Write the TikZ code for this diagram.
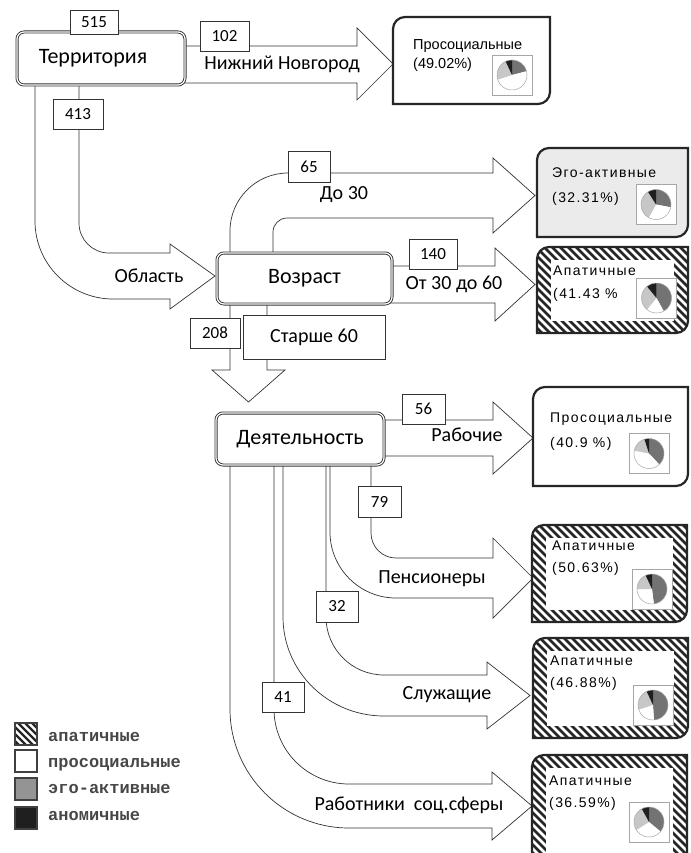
\documentclass[tikz,border=0pt]{standalone}
\usepackage{fontspec}
\setmainfont{Carlito}
\newfontfamily\resfont{Liberation Sans}
\newfontfamily\resfontsp[LetterSpace=10]{Liberation Sans}
\newfontfamily\legfont{Liberation Mono}

\newcommand\resshape[4]{(#1,#4) -- (#1,#2+12) .. controls (#1,#2+5.4) and (#1+5.4,#2) .. (#1+12,#2) -- (#3,#2) -- (#3,#4-12) .. controls (#3,#4-5.4) and (#3-5.4,#4) .. (#3-12,#4) -- cycle}
\newcommand\plainres[5]{\filldraw[resline, fill=#5] \resshape{#1}{#2}{#3}{#4};}
\newcommand\hatchres[4]{%
  \begin{scope}
    \clip \resshape{#1}{#2}{#3}{#4};
    \fill[white] (#1,#2) rectangle (#3,#4);
    \foreach \k in {0,8,...,320} \draw[hatchline] (#1-150+\k,#2-5) -- ++(140,140);
  \end{scope}
  \fill[white] (#1+14,#2+13) rectangle (#3-14,#4-12);
  \draw[resline] \resshape{#1}{#2}{#3}{#4};
}
\newcommand\minipie[5]{%
  \pgfmathsetmacro\pa{-90+3.6*#3}%
  \pgfmathsetmacro\pb{\pa+3.6*#4}%
  \pgfmathsetmacro\pc{\pb+3.6*#5}%
  \draw[draw=black!35, line width=0.6pt, fill=white] (#1-20,#2-20) rectangle (#1+20,#2+20);
  \fill[black!55] (#1,#2) -- ++(-90:15) arc[start angle=-90, end angle=\pa, radius=15] -- cycle;
  \fill[white] (#1,#2) -- ++(\pa:15) arc[start angle=\pa, end angle=\pb, radius=15] -- cycle;
  \fill[black!22] (#1,#2) -- ++(\pb:15) arc[start angle=\pb, end angle=\pc, radius=15] -- cycle;
  \fill[black!88] (#1,#2) -- ++(\pc:15) arc[start angle=\pc, end angle=270, radius=15] -- cycle;
  \draw[black!35, line width=0.5pt] (#1,#2) circle[radius=15];
}

\begin{document}
\begin{tikzpicture}[x=1pt,y=-1pt,
  flow/.style={draw=black!80, line width=0.7pt, fill=white},
  mainbox/.style={draw=black!80, line width=0.9pt, double=white, double distance=1.2pt, rounded corners=7pt, fill=white, inner sep=0pt, font=\fontsize{22}{22}\selectfont},
  numbox/.style={draw=black!80, line width=0.7pt, fill=white, inner sep=0pt, font=\fontsize{17}{17}\selectfont},
  flowlabel/.style={inner sep=0pt, font=\fontsize{20}{20}\selectfont},
  resline/.style={draw=black!85, line width=2.2pt},
  hatchline/.style={draw=black!85, line width=2.8pt},
  restext/.style={inner sep=0pt, anchor=base west, font=\resfontsp\fontsize{14}{14}\selectfont},
  legtext/.style={inner sep=0pt, anchor=base west, text=black!72, font=\legfont\bfseries\fontsize{17}{17}\selectfont},
  legbox/.style={draw=black!75, line width=1.2pt}
]
\useasboundingbox (0,0) rectangle (690,853);

% ---- flow arrows ----
\draw[flow] (79,80) -- (79,223) .. controls (79,239.6) and (92.4,253) .. (109,253) -- (170,253) -- (170,244) -- (215,276) -- (170,309) -- (170,299) -- (113,299) .. controls (70,299) and (35,264) .. (35,221) -- (35,80) -- cycle;
\draw[flow] (180,46) -- (357,46) -- (357,28) -- (393,64) -- (357,100) -- (357,83) -- (180,83) -- cycle;
\draw[flow] (230,258) -- (230,231) .. controls (230,199) and (256,173) .. (288,173) -- (493,173) -- (493,158) -- (535,195.5) -- (493,233) -- (493,218) -- (287,218) .. controls (279.3,218) and (273,224.3) .. (273,232) -- (273,258) -- cycle;
\draw[flow] (388,266) -- (495,266) -- (495,248) -- (535,284.5) -- (495,321) -- (495,303) -- (388,303) -- cycle;
\draw[flow] (230,300) -- (230,370) -- (212,370) -- (248.5,402) -- (285,370) -- (267,370) -- (267,300) -- cycle;
\draw[flow] (380,420) -- (493,420) -- (493,402) -- (533,438) -- (493,474) -- (493,456) -- (380,456) -- cycle;
\draw[flow] (371,460) -- (371,533) .. controls (371,546.8) and (382.2,558) .. (396,558) -- (493,558) -- (493,538) -- (533,578) -- (493,618) -- (493,598) -- (396,598) .. controls (359.6,598) and (330,568.4) .. (330,532) -- (330,460) -- cycle;
\draw[flow] (326,460) -- (326,617) .. controls (326,649) and (352,675) .. (384,675) -- (487,675) -- (487,662) -- (530,695.5) -- (487,729) -- (487,716) -- (384,716) .. controls (328.2,716) and (283,671.6) .. (283,617) -- (283,460) -- cycle;
\draw[flow] (274,460) -- (274,709) .. controls (274,750.4) and (307.6,784) .. (349,784) -- (492,784) -- (492,772) -- (532,806) -- (492,840) -- (492,828) -- (349,828) .. controls (283.3,828) and (230,774.7) .. (230,709) -- (230,460) -- cycle;

% ---- main boxes ----
\node[mainbox, minimum width=168pt, minimum height=53pt] (terr) at (101,58.5) {Территория\hspace*{16pt}};
\node[mainbox, minimum width=175pt, minimum height=51pt] (age) at (304.5,278.5) {Возраст};
\node[mainbox, minimum width=168pt, minimum height=52pt] (act) at (300,439) {Деятельность};

% ---- number boxes ----
\node[numbox, minimum width=48pt, minimum height=24pt] (n515) at (94,22) {515};
\node[numbox, minimum width=49pt, minimum height=30pt] (n102) at (224.5,36) {102};
\node[numbox, minimum width=50pt, minimum height=30pt] (n413) at (78,114.5) {413};
\node[numbox, minimum width=42pt, minimum height=31pt] (n65) at (309,166.5) {65};
\node[numbox, minimum width=48pt, minimum height=30pt] (n140) at (433,254) {140};
\node[numbox, minimum width=50pt, minimum height=30pt] (n208) at (215,333) {208};
\node[numbox, minimum width=142pt, minimum height=44pt, font=\fontsize{20}{20}\selectfont] (lold) at (314,337) {Старше 60};
\node[numbox, minimum width=43pt, minimum height=30pt] (n56) at (423.5,409) {56};
\node[numbox, minimum width=43pt, minimum height=31pt] (n79) at (379.5,501.5) {79};
\node[numbox, minimum width=42pt, minimum height=31pt] (n32) at (337,606.5) {32};
\node[numbox, minimum width=42pt, minimum height=30pt] (n41) at (283,697) {41};

% ---- flow labels ----
\node[flowlabel] (lnn) at (282,64) {Нижний Новгород};
\node[flowlabel] (lobl) at (149,276) {Область};
\node[flowlabel] (l30) at (344,195) {До 30};
\node[flowlabel] (l3060) at (454,284) {От 30 до 60};
\node[flowlabel] (lrab) at (467,435) {Рабочие};
\node[flowlabel] (lpen) at (432,579) {Пенсионеры};
\node[flowlabel] (lslu) at (447,695) {Служащие};
\node[flowlabel] (lsoc) at (409,805) {Работники\ \ соц.сферы};

% ---- result boxes ----
\plainres{393}{17}{550}{104}{white}
\plainres{537}{148}{688}{237}{black!8}
\hatchres{537}{247}{688}{333}
\plainres{533}{387}{688}{486}{white}
\hatchres{532}{525}{687}{622}
\hatchres{533}{638}{688}{738}
\hatchres{532}{755}{687}{875}

\node[restext, font=\resfont\fontsize{14.5}{14.5}\selectfont] (r1a) at (413,50) {Просоциальные};
\node[restext, font=\resfont\fontsize{14.5}{14.5}\selectfont] (r1b) at (413,69) {(49.02\%)};
\minipie{512}{75}{21}{49}{23}
\node[restext] (r2a) at (552,178) {Эго-активные};
\node[restext] (r2b) at (552,202) {(32.31\%)};
\minipie{656}{204.5}{28}{30}{33}
\node[restext] (r3a) at (553,275) {Апатичные};
\node[restext] (r3b) at (553,298) {(41.43 \%};
\minipie{656.5}{298}{42}{19}{28}
\node[restext] (r4a) at (550,422) {Просоциальные};
\node[restext] (r4b) at (550,447) {(40.9 \%)};
\minipie{649}{453.5}{38}{40}{17}
\node[restext] (r5a) at (552,550) {Апатичные};
\node[restext] (r5b) at (552,572) {(50.63\%)};
\minipie{652}{589}{48}{27}{18}
\node[restext] (r6a) at (550,665) {Апатичные};
\node[restext] (r6b) at (550,687) {(46.88\%)};
\minipie{653}{705}{49}{21}{23}
\node[restext] (r7a) at (549,785) {Апатичные};
\node[restext] (r7b) at (549,807) {(36.59\%)};
\minipie{649}{822}{36}{30}{26}

% ---- legend ----
\begin{scope}
  \clip (15,723) rectangle (37,745);
  \fill[white] (15,723) rectangle (37,745);
  \foreach \k in {0,7,...,63} \draw[draw=black!85, line width=2.4pt] (15-35+\k,720) -- ++(30,30);
\end{scope}
\draw[legbox] (15,723) rectangle (37,745);
\draw[legbox, fill=white] (15,750) rectangle (37,772);
\draw[legbox, fill=black!42] (15,778) rectangle (37,800);
\draw[legbox, fill=black!88] (15,807) rectangle (37,829);
\node[legtext] (g1) at (48,741) {апатичные};
\node[legtext] (g2) at (48,767) {просоциальные};
\node[legtext] (g3) at (48,793) {эго-активные};
\node[legtext] (g4) at (48,820) {аномичные};
\end{tikzpicture}
\end{document}
